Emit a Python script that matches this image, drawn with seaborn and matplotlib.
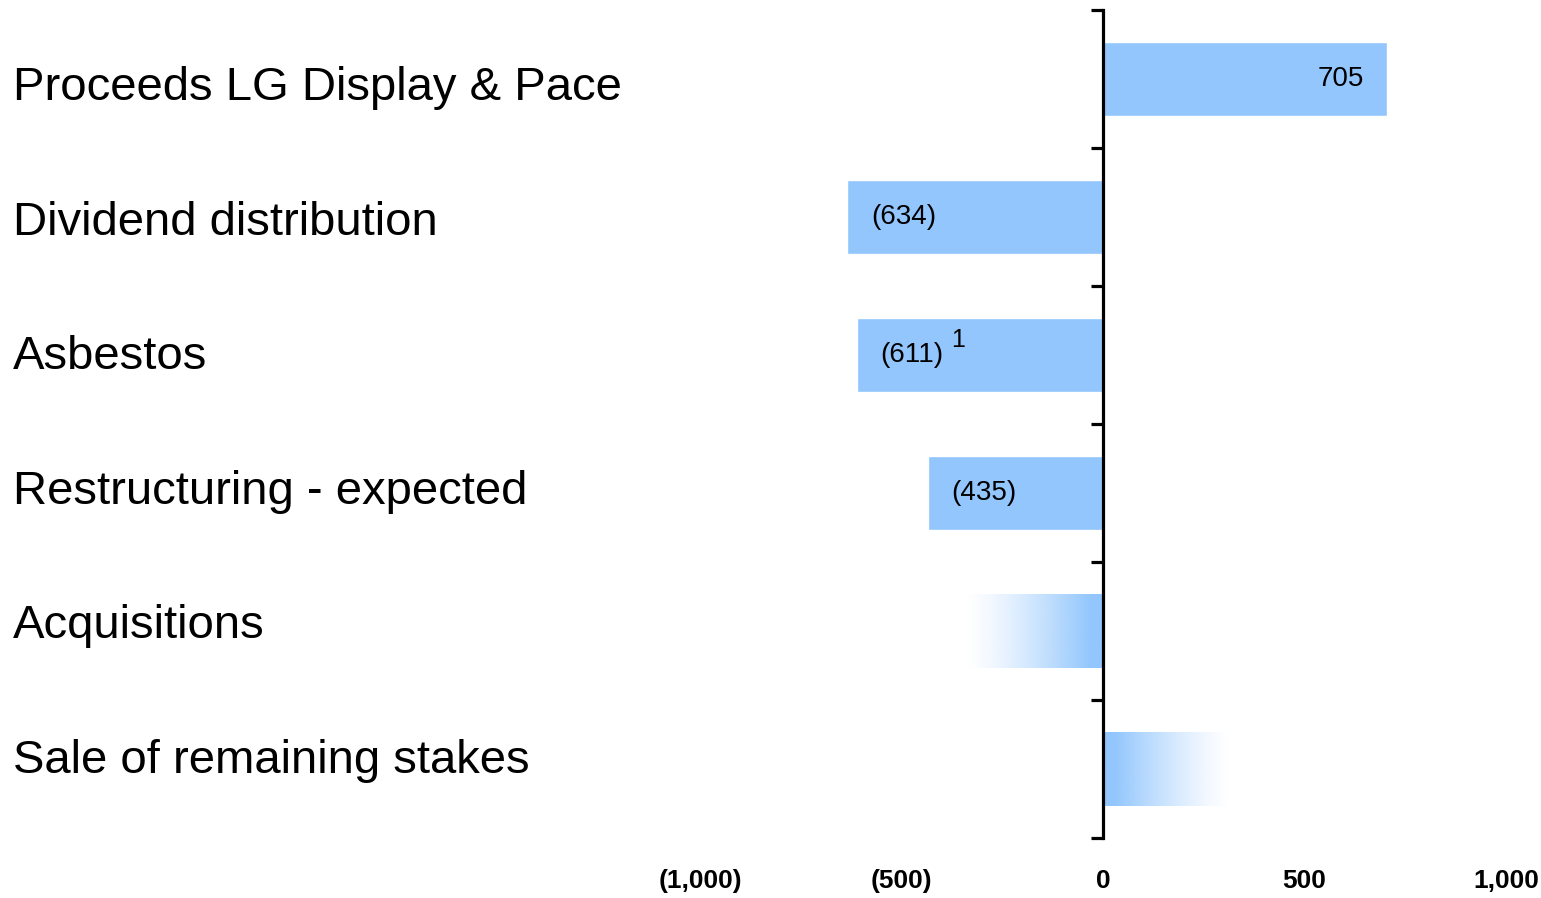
import numpy as np
import pandas as pd
import matplotlib
matplotlib.use("Agg")
import matplotlib.pyplot as plt
import matplotlib.transforms as mtransforms
from matplotlib.colors import to_rgb
import seaborn as sns

# chart data
categories = ["Proceeds LG Display & Pace", "Dividend distribution", "Asbestos",
              "Restructuring - expected", "Acquisitions", "Sale of remaining stakes"]
values = [705, -634, -611, -435, -340, 315]
value_labels = ["705", "(634)", "(611)", "(435)", "", ""]
faded = [False, False, False, False, True, True]   # bars drawn as gradients
x_ticks = [-1000, -500, 0, 500, 1000]
x_tick_labels = ["(1,000)", "(500)", "0", "500", "1,000"]

bar_color = "#92C6FD"

sns.set_style("white")
plt.rcParams["font.family"] = ["Liberation Sans", "DejaVu Sans"]
plt.rcParams["text.color"] = "black"
plt.rcParams["xtick.color"] = "black"

df = pd.DataFrame({"item": categories, "value": values})

fig = plt.figure(figsize=(15.41, 8.98), dpi=100)
ax = fig.add_axes([700 / 1541, 1 - 838 / 898, 806 / 1541, 828 / 898])

sns.barplot(data=df, y="item", x="value", orient="h", color=bar_color,
            saturation=1, width=0.53, ax=ax)

# gradient fill for the uncertain items
rgb = to_rgb(bar_color)
for p, is_faded, v in zip(ax.patches, faded, values):
    if not is_faded:
        continue
    x0 = min(p.get_x(), p.get_x() + p.get_width())
    x1 = max(p.get_x(), p.get_x() + p.get_width())
    y0, y1 = p.get_y(), p.get_y() + p.get_height()
    ramp = np.clip(np.linspace(0, 1.1, 256), 0, 1) ** 1.3
    if v > 0:
        ramp = ramp[::-1]
    img = np.zeros((1, 256, 4))
    img[..., :3] = rgb
    img[..., 3] = ramp
    p.set_facecolor("none")
    im = ax.imshow(img, extent=[x0, x1, y1, y0], aspect="auto", zorder=2,
                   interpolation="bilinear")
    im.set_clip_path(p)

ax.set_xlim(-1000, 1000)
ax.set_ylim(5.5, -0.5)

# value labels inside the bars
for i, (v, lab) in enumerate(zip(values, value_labels)):
    if not lab:
        continue
    if v > 0:
        ax.annotate(lab, (v, i), xytext=(-17, 0), textcoords="offset points",
                    ha="right", va="center", fontsize=20)
    else:
        ax.annotate(lab, (v, i), xytext=(17, 0), textcoords="offset points",
                    ha="left", va="center", fontsize=20)
ax.annotate("1", (values[2], 2), xytext=(68, 11), textcoords="offset points",
            ha="left", va="center", fontsize=18)

# category labels at the left edge of the figure (slightly tighter spacing than the bars)
trans = mtransforms.blended_transform_factory(fig.transFigure, ax.transData)
for i, cat in enumerate(categories):
    ax.text(13 / 1541, 0.065 + 0.975 * i, cat, transform=trans, ha="left",
            va="center", fontsize=34)

ax.set_xticks(x_ticks)
ax.set_xticklabels(x_tick_labels, fontsize=19, fontweight="bold")
ax.set_yticks(np.arange(-0.5, 6, 1))
ax.set_yticklabels([])
ax.set_xlabel("")
ax.set_ylabel("")

for s in ["top", "right", "bottom"]:
    ax.spines[s].set_visible(False)
ax.spines["left"].set_position(("data", 0))
ax.spines["left"].set_linewidth(2.3)
ax.spines["left"].set_color("black")
ax.spines["left"].set_zorder(5)
ax.tick_params(axis="x", length=0, pad=22)
ax.tick_params(axis="y", left=True, length=9, width=2.3, color="black")

fig.savefig("out.png", dpi=100, facecolor="white")
